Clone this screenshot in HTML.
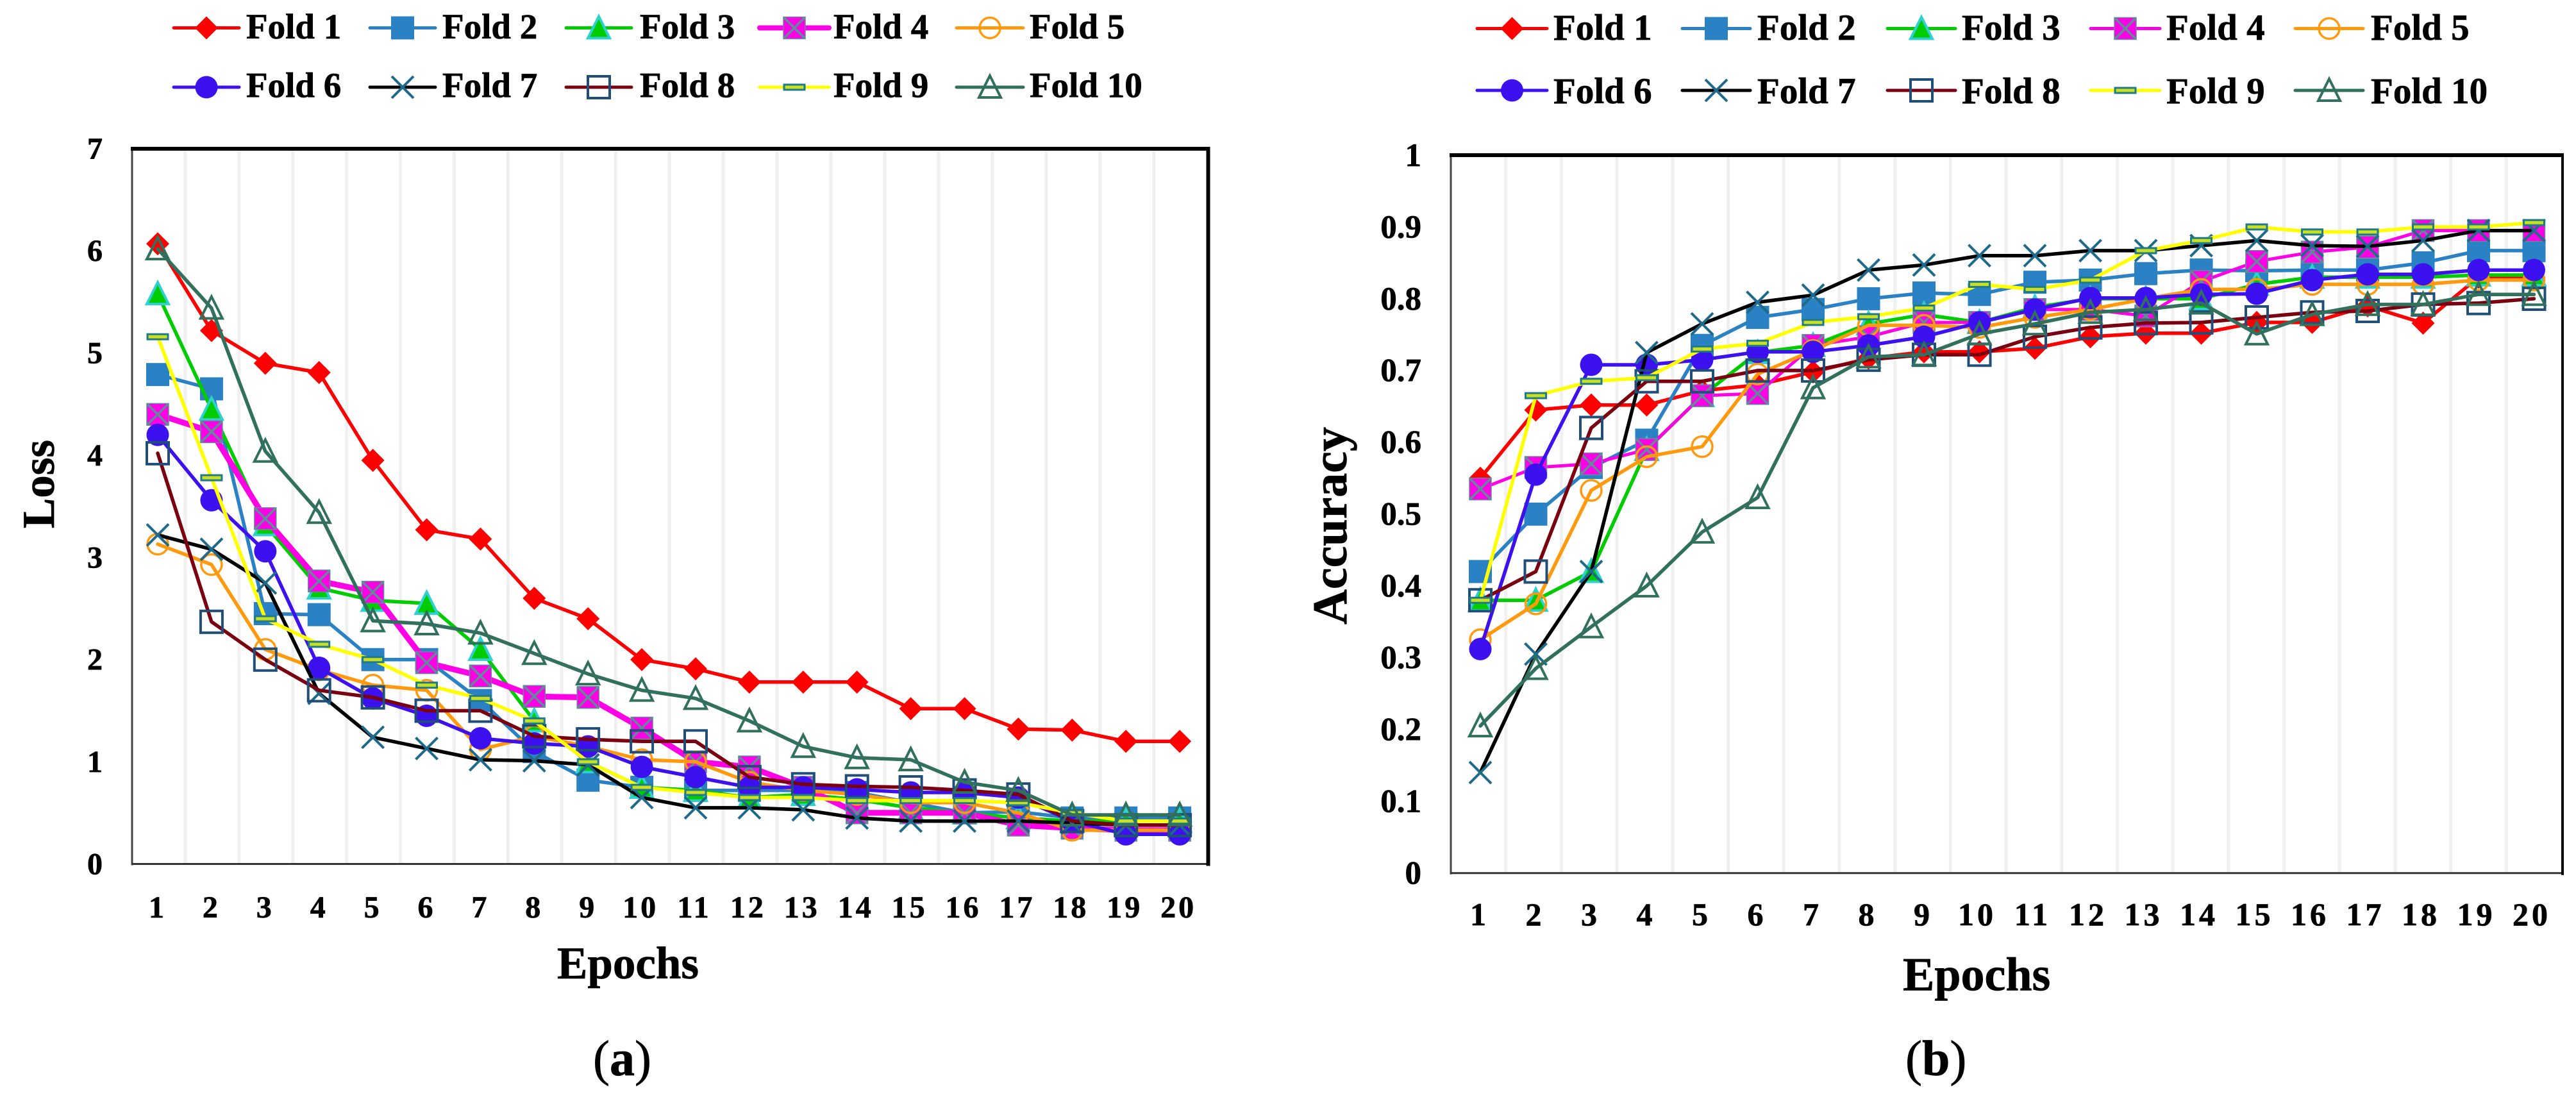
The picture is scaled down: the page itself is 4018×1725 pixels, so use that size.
<!DOCTYPE html>
<html lang="en">
<head>
<meta charset="utf-8">
<title>Loss and accuracy across 10 folds</title>
<style>
html,body{margin:0;padding:0;background:#fff;}
svg{display:block;}
text{font-family:"Liberation Serif",serif;font-weight:bold;fill:#000;stroke:#000;stroke-width:0.7px;}
</style>
</head>
<body>
<svg id="figure" xmlns="http://www.w3.org/2000/svg" width="4018" height="1725" viewBox="0 0 4018 1725">
<rect x="0" y="0" width="4018" height="1725" fill="#fff"></rect>
</svg>
<script>
const epochs = [1,2,3,4,5,6,7,8,9,10,11,12,13,14,15,16,17,18,19,20];
const foldNames = ['Fold 1','Fold 2','Fold 3','Fold 4','Fold 5','Fold 6','Fold 7','Fold 8','Fold 9','Fold 10'];
const lossTicks = [0,1,2,3,4,5,6,7];
const lossTickLabels = ['0','1','2','3','4','5','6','7'];
const accTicks = [0,0.1,0.2,0.3,0.4,0.5,0.6,0.7,0.8,0.9,1];
const accTickLabels = ['0','0.1','0.2','0.3','0.4','0.5','0.6','0.7','0.8','0.9','1'];

const lossFold1 = [6.07,5.22,4.9,4.81,3.95,3.27,3.18,2.6,2.4,2.0,1.91,1.78,1.78,1.78,1.52,1.52,1.32,1.31,1.2,1.2];
const lossFold2 = [4.79,4.65,2.45,2.44,2.0,2.0,1.6,1.1,0.82,0.75,0.72,0.72,0.72,0.7,0.6,0.5,0.51,0.45,0.45,0.45];
const lossFold3 = [5.58,4.45,3.32,2.7,2.58,2.55,2.1,1.4,1.0,0.75,0.72,0.65,0.68,0.63,0.55,0.5,0.45,0.42,0.42,0.42];
const lossFold4 = [4.4,4.23,3.38,2.77,2.66,1.97,1.84,1.64,1.63,1.33,1.0,0.95,0.75,0.5,0.5,0.5,0.38,0.35,0.33,0.33];
const lossFold5 = [3.13,2.93,2.1,1.9,1.75,1.7,1.12,1.25,1.15,1.02,1.0,0.8,0.72,0.68,0.6,0.6,0.5,0.33,0.33,0.33];
const lossFold6 = [4.2,3.56,3.06,1.92,1.62,1.45,1.23,1.18,1.15,0.95,0.85,0.75,0.75,0.73,0.7,0.7,0.65,0.42,0.29,0.29];
const lossFold7 = [3.22,3.08,2.75,1.67,1.24,1.13,1.02,1.01,0.97,0.65,0.55,0.55,0.53,0.45,0.42,0.42,0.42,0.4,0.38,0.38];
const lossFold8 = [4.02,2.37,2.0,1.7,1.63,1.5,1.5,1.25,1.22,1.2,1.2,0.85,0.78,0.76,0.75,0.72,0.68,0.42,0.38,0.38];
const lossFold9 = [5.16,3.78,2.4,2.15,2.0,1.75,1.62,1.4,1.0,0.75,0.7,0.65,0.65,0.62,0.62,0.62,0.6,0.5,0.42,0.42];
const lossFold10 = [6.02,5.44,4.04,3.44,2.38,2.35,2.26,2.06,1.86,1.7,1.62,1.4,1.15,1.04,1.02,0.8,0.72,0.48,0.48,0.48];

const accFold1 = [0.55,0.645,0.652,0.652,0.672,0.68,0.698,0.717,0.726,0.726,0.731,0.747,0.752,0.752,0.767,0.767,0.79,0.766,0.83,0.83];
const accFold2 = [0.42,0.5,0.565,0.603,0.735,0.774,0.785,0.8,0.808,0.806,0.823,0.826,0.835,0.84,0.839,0.84,0.84,0.85,0.867,0.867];
const accFold3 = [0.38,0.38,0.42,0.59,0.665,0.725,0.735,0.765,0.778,0.767,0.788,0.8,0.8,0.8,0.82,0.83,0.83,0.83,0.833,0.833];
const accFold4 = [0.535,0.565,0.57,0.59,0.665,0.668,0.735,0.747,0.767,0.767,0.785,0.785,0.776,0.824,0.852,0.865,0.872,0.895,0.895,0.895];
const accFold5 = [0.325,0.375,0.533,0.58,0.594,0.695,0.728,0.763,0.763,0.76,0.774,0.785,0.8,0.813,0.813,0.82,0.82,0.82,0.826,0.826];
const accFold6 = [0.312,0.555,0.708,0.708,0.715,0.726,0.726,0.735,0.747,0.767,0.785,0.801,0.801,0.806,0.807,0.826,0.834,0.834,0.84,0.84];
const accFold7 = [0.14,0.305,0.42,0.725,0.765,0.795,0.805,0.84,0.847,0.86,0.86,0.867,0.867,0.874,0.881,0.874,0.873,0.881,0.895,0.895];
const accFold8 = [0.38,0.42,0.62,0.685,0.685,0.7,0.7,0.715,0.722,0.722,0.747,0.76,0.766,0.767,0.774,0.781,0.783,0.792,0.794,0.8];
const accFold9 = [0.38,0.665,0.685,0.69,0.73,0.738,0.767,0.775,0.787,0.82,0.813,0.826,0.867,0.881,0.9,0.893,0.893,0.9,0.9,0.906];
const accFold10 = [0.205,0.285,0.343,0.4,0.475,0.523,0.676,0.719,0.722,0.751,0.765,0.781,0.785,0.794,0.751,0.778,0.792,0.792,0.806,0.806];

const lossSeries = [lossFold1,lossFold2,lossFold3,lossFold4,lossFold5,lossFold6,lossFold7,lossFold8,lossFold9,lossFold10];
const accSeries = [accFold1,accFold2,accFold3,accFold4,accFold5,accFold6,accFold7,accFold8,accFold9,accFold10];

const foldLook = [
  {line:'#ff0000',kind:'diamond',fill:'#ff0000',edge:'#ff0000'},
  {line:'#2a82c4',kind:'square',fill:'#2a82c4',edge:'#2a82c4'},
  {line:'#00cc00',kind:'triangle',fill:'#00cc00',edge:'#2fd0d0'},
  {line:'#ff00e6',kind:'squarex',fill:'#ff00e6',edge:'#5f8c9c'},
  {line:'#ff9a0e',kind:'circle',fill:'none',edge:'#ff9a0e'},
  {line:'#3d10f0',kind:'circle',fill:'#3d10f0',edge:'#3d10f0'},
  {line:'#000000',kind:'cross',fill:'none',edge:'#1f6a8a'},
  {line:'#7a0010',kind:'square',fill:'none',edge:'#1f4e79'},
  {line:'#ffff00',kind:'dash',fill:'#c8e020',edge:'#1f7a8c'},
  {line:'#31705c',kind:'triangle',fill:'none',edge:'#31705c'}
];

const svgNS = 'http://www.w3.org/2000/svg';
const root = document.getElementById('figure');

function make(tag, attrs, parent){
  const node = document.createElementNS(svgNS, tag);
  for (const k in attrs) node.setAttribute(k, attrs[k]);
  parent.appendChild(node);
  return node;
}

function drawMarker(parent, look, cx, cy){
  const r = 17;
  if (look.kind === 'diamond') {
    make('polygon',{points:[cx,cy-r-1,cx+r+1,cy,cx,cy+r+1,cx-r-1,cy].join(' '),fill:look.fill},parent);
  } else if (look.kind === 'square') {
    make('rect',{x:cx-r,y:cy-r,width:r*2,height:r*2,fill:look.fill,stroke:look.edge,'stroke-width':look.fill==='none'?4:2},parent);
  } else if (look.kind === 'squarex') {
    make('rect',{x:cx-r,y:cy-r,width:r*2,height:r*2,fill:look.fill,stroke:look.edge,'stroke-width':1.5},parent);
    make('path',{d:'M'+(cx-r+1)+' '+(cy-r+1)+'L'+(cx+r-1)+' '+(cy+r-1)+'M'+(cx+r-1)+' '+(cy-r+1)+'L'+(cx-r+1)+' '+(cy+r-1),stroke:look.edge,'stroke-width':3.5,fill:'none'},parent);
  } else if (look.kind === 'triangle') {
    make('polygon',{points:[cx,cy-r-1,cx+r,cy+r-1,cx-r,cy+r-1].join(' '),fill:look.fill,stroke:look.edge,'stroke-width':4},parent);
  } else if (look.kind === 'circle') {
    make('circle',{cx:cx,cy:cy,r:look.fill==='none'?16:r+0.5,fill:look.fill,stroke:look.edge,'stroke-width':look.fill==='none'?3.5:0},parent);
  } else if (look.kind === 'cross') {
    make('path',{d:'M'+(cx-r)+' '+(cy-r)+'L'+(cx+r)+' '+(cy+r)+'M'+(cx+r)+' '+(cy-r)+'L'+(cx-r)+' '+(cy+r),stroke:look.edge,'stroke-width':4,fill:'none'},parent);
  } else if (look.kind === 'dash') {
    make('rect',{x:cx-16,y:cy-4,width:32,height:8,fill:look.fill,stroke:look.edge,'stroke-width':3},parent);
  }
}

function drawChart(cfg, series, ticks, tickLabels){
  const chart = make('g',{},root);
  
  

  const xScale = function(idx){ return cfg.pt0 + idx * cfg.ptStep; };
  const yScale = function(v){ return cfg.bottom - (v / cfg.max) * (cfg.bottom - cfg.top); };

  const band = (cfg.right - cfg.left) / epochs.length;
  epochs.forEach(function(ep, i){
    if (i === 0) return;
    const gx = cfg.left + band * i - 1;
    const grid = make('line',{x1:gx,x2:gx,y1:cfg.top+3,y2:cfg.bottom,stroke:'#f0f0f0','stroke-width':5},chart);
    
    
  });

  const axisLeft = make('line',{x1:cfg.left,x2:cfg.left,y1:cfg.top,y2:cfg.bottom+2,stroke:'#444','stroke-width':3},chart);
  
  
  const axisBottom = make('line',{x1:cfg.left,x2:cfg.right,y1:cfg.bottom,y2:cfg.bottom,stroke:'#333','stroke-width':3},chart);
  
  
  const frameTop = make('line',{x1:cfg.left-2,x2:cfg.right+2,y1:cfg.top,y2:cfg.top,stroke:'#000','stroke-width':6},chart);
  
  
  const frameRight = make('line',{x1:cfg.right,x2:cfg.right,y1:cfg.top-3,y2:cfg.bottom+3,stroke:'#000','stroke-width':cfg.rightWidth},chart);
  
  

  ticks.forEach(function(t, i){
    const label = make('text',{x:cfg.yLabelX,y:yScale(t)+cfg.yFont*0.33,'text-anchor':'end','font-size':cfg.yFont},chart);
    label.textContent = tickLabels[i];
    
    
  });

  epochs.forEach(function(ep, i){
    const label = make('text',{x:xScale(i)+cfg.xLabelShift,y:cfg.xLabelY,'text-anchor':'middle','font-size':cfg.xFont,'letter-spacing':ep>9?cfg.xSpacing:0},chart);
    label.textContent = String(ep);
    
    
  });

  const xTitle = make('text',{x:cfg.xTitleX,y:cfg.xTitleY,'font-size':cfg.xTitleFont},chart);
  xTitle.textContent = 'Epochs';
  
  

  const yTitle = make('text',{x:0,y:0,'text-anchor':'middle','font-size':cfg.yTitleFont,transform:'translate('+cfg.yTitleX+' '+cfg.yTitleY+') rotate(-90)'},chart);
  yTitle.textContent = cfg.yTitle;
  
  

  series.forEach(function(values, s){
    const look = foldLook[s];
    const group = make('g',{},chart);
    
    
    const pts = values.map(function(v,i){ return xScale(i).toFixed(1)+','+yScale(v).toFixed(1); }).join(' ');
    const width = (s === 3) ? cfg.fold4Width : 5.5;
    const polyline = make('polyline',{points:pts,fill:'none',stroke:look.line,'stroke-width':width,'stroke-linejoin':'round','stroke-linecap':'round'},group);
    
    
    values.forEach(function(v,i){
      const point = make('g',{},group);
      
      
      drawMarker(point, look, xScale(i), yScale(v));
    });
  });

  const legend = make('g',{},chart);
  
  
  foldNames.forEach(function(name, s){
    const col = s % 5;
    const row = Math.floor(s / 5);
    const look = foldLook[s];
    const entry = make('g',{},legend);
    
    
    const ly = cfg.legendLineY[row];
    const x1 = cfg.legendLine[col][0];
    const x2 = cfg.legendLine[col][1];
    make('line',{x1:x1,x2:x2,y1:ly,y2:ly,stroke:look.line,'stroke-width':(s===3&&cfg.fold4Width>6)?8:5,'stroke-linecap':'round'},entry);
    drawMarker(entry, look, (x1+x2)/2, ly);
    const text = make('text',{x:cfg.legendText[col],y:cfg.legendBase[row],'font-size':cfg.legendFont},entry);
    text.textContent = name;
  });

  const cap = make('text',{x:cfg.capX,y:cfg.capY,'font-size':cfg.capFont},root);
  
  
  const open = make('tspan',{'font-weight':'normal'},cap); open.textContent = '(';
  const mid = make('tspan',{'font-weight':'bold'},cap); mid.textContent = cfg.cap;
  const close = make('tspan',{'font-weight':'normal'},cap); close.textContent = ')';
}

drawChart({
  id:'loss',left:206,right:1884.5,top:232,bottom:1347.5,max:7,pt0:246,ptStep:83.9,rightWidth:6,
  yLabelX:160,yFont:48,xLabelY:1431,xLabelShift:-2,xFont:48,xSpacing:4,
  xTitleX:869,xTitleY:1526,xTitleFont:71,yTitle:'Loss',yTitleX:84,yTitleY:755,yTitleFont:71,fold4Width:9,
  legendLineY:[43.5,136],legendBase:[60,151.5],legendFont:55,
  legendLine:[[271,373],[577,679],[883,985],[1185,1293],[1492,1596]],
  legendText:[384,690,998,1300,1606],
  cap:'a',capX:925,capY:1677,capFont:78
}, lossSeries, lossTicks, lossTickLabels);

drawChart({
  id:'accuracy',left:2263,right:3997,top:242,bottom:1361.7,max:1,pt0:2309,ptStep:86.5,rightWidth:4,
  yLabelX:2217,yFont:51,xLabelY:1443,xLabelShift:-3.5,xFont:50,xSpacing:5,
  xTitleX:2968,xTitleY:1544.5,xTitleFont:74,yTitle:'Accuracy',yTitleX:2100,yTitleY:820,yTitleFont:76,fold4Width:5,
  legendLineY:[44.5,141],legendBase:[62,161],legendFont:57,
  legendLine:[[2304,2413],[2624,2730],[2944,3050],[3261,3369],[3580,3686]],
  legendText:[2423,2741,3060,3379,3698],
  cap:'b',capX:2972,capY:1677,capFont:78
}, accSeries, accTicks, accTickLabels);
</script>
</body>
</html>
